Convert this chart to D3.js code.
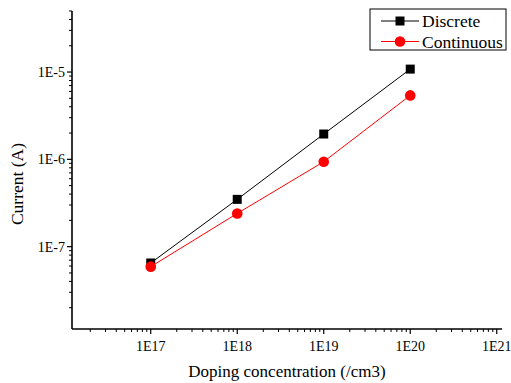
<!DOCTYPE html>
<html>
<head>
<meta charset="utf-8">
<script src="https://cdn.jsdelivr.net/npm/d3@7"></script>
<style>
  body { margin: 0; background: #fff; }
  text { font-family: "Liberation Serif", "Times New Roman", serif; }
</style>
</head>
<body>
<div id="chart"></div>
<script>
const width = 511;
const height = 383;
const margin = ({top: 11, right: 9, bottom: 54, left: 72});

// doping concentration (/cm3)
const doping = [1e17, 1e18, 1e19, 1e20];
const discrete = [6.5e-8, 3.48e-7, 1.95e-6, 1.08e-5];
const continuous = [5.9e-8, 2.4e-7, 9.4e-7, 5.4e-6];
const xTickLabels = ["1E17", "1E18", "1E19", "1E20", "1E21"];
const yTickLabels = ["1E-7", "1E-6", "1E-5"];

const series = [
    {name: "Discrete", values: discrete, color: "#000000", marker: "square"},
    {name: "Continuous", values: continuous, color: "#ff0000", marker: "circle"}
];

let svg = d3.select("#chart")
    .append("svg")
    .attr("width", width)
    .attr("height", height)
    .style("display", "block");

let xScale = d3.scaleLog()
    .domain([1.23e16, 1.15e21])
    .range([margin.left, width - margin.right]);

let yScale = d3.scaleLog()
    .domain([1.14e-8, 5e-5])
    .range([height - margin.bottom, margin.top]);

// minor ticks 2..9 in every decade that falls in the domain
const minorTicks = (scale) => {
    let [a, b] = scale.domain();
    let out = [];
    for (let e = Math.floor(Math.log10(a)); e <= Math.ceil(Math.log10(b)); e++) {
        for (let m = 2; m <= 9; m++) {
            let v = m * Math.pow(10, e);
            if (v >= a && v <= b) out.push(v);
        }
    }
    return out;
};

const xMajor = xTickLabels.map(t => +t.replace("E", "e"));
const yMajor = yTickLabels.map(t => +t.replace("E", "e"));

// x axis
let xAxis = svg.append("g")
    .attr("transform", "translate(0," + (height - margin.bottom) + ")");

xAxis.selectAll(".minor")
    .data(minorTicks(xScale))
    .enter().append("line")
    .attr("x1", d => xScale(d)).attr("x2", d => xScale(d))
    .attr("y1", 0).attr("y2", 3)
    .attr("stroke", "#000").attr("stroke-width", 1);

xAxis.selectAll(".major")
    .data(xMajor)
    .enter().append("line")
    .attr("x1", d => xScale(d)).attr("x2", d => xScale(d))
    .attr("y1", 0).attr("y2", 5)
    .attr("stroke", "#000").attr("stroke-width", 1.2);

xAxis.selectAll(".label")
    .data(xMajor)
    .enter().append("text")
    .attr("x", d => xScale(d))
    .attr("y", 22)
    .attr("text-anchor", "middle")
    .attr("font-size", 14)
    .text((d, i) => xTickLabels[i]);

xAxis.append("line")
    .attr("x1", margin.left).attr("x2", width - margin.right)
    .attr("y1", 0).attr("y2", 0)
    .attr("stroke", "#000").attr("stroke-width", 1.6);

// y axis
let yAxis = svg.append("g")
    .attr("transform", "translate(" + margin.left + ",0)");

yAxis.selectAll(".minor")
    .data(minorTicks(yScale))
    .enter().append("line")
    .attr("y1", d => yScale(d)).attr("y2", d => yScale(d))
    .attr("x1", 0).attr("x2", -3)
    .attr("stroke", "#000").attr("stroke-width", 1);

yAxis.selectAll(".major")
    .data(yMajor)
    .enter().append("line")
    .attr("y1", d => yScale(d)).attr("y2", d => yScale(d))
    .attr("x1", 0).attr("x2", -5)
    .attr("stroke", "#000").attr("stroke-width", 1.2);

yAxis.selectAll(".label")
    .data(yMajor)
    .enter().append("text")
    .attr("x", -7)
    .attr("y", d => yScale(d))
    .attr("dy", "0.35em")
    .attr("text-anchor", "end")
    .attr("font-size", 14)
    .text((d, i) => yTickLabels[i]);

yAxis.append("line")
    .attr("x1", 0).attr("x2", 0)
    .attr("y1", margin.top).attr("y2", height - margin.bottom)
    .attr("stroke", "#000").attr("stroke-width", 1.6);

// axis titles
svg.append("text")
    .attr("x", (margin.left + width - margin.right) / 2)
    .attr("y", 377)
    .attr("text-anchor", "middle")
    .attr("font-size", 17)
    .text("Doping concentration (/cm3)");

svg.append("text")
    .attr("transform", "translate(23,184) rotate(-90)")
    .attr("text-anchor", "middle")
    .attr("font-size", 17.5)
    .text("Current (A)");

// series
let line = d3.line()
    .x((d, i) => xScale(doping[i]))
    .y(d => yScale(d));

const drawMarker = (g, type, color, x, y) => {
    if (type === "square") {
        g.append("rect")
            .attr("x", x - 4.5).attr("y", y - 4.5)
            .attr("width", 9).attr("height", 9)
            .attr("fill", color);
    } else {
        g.append("circle")
            .attr("cx", x).attr("cy", y)
            .attr("r", 5.3)
            .attr("fill", color);
    }
};

series.forEach(s => {
    let g = svg.append("g");
    g.append("path")
        .datum(s.values)
        .attr("d", line)
        .attr("fill", "none")
        .attr("stroke", s.color)
        .attr("stroke-width", 1);
    s.values.forEach((v, i) => drawMarker(g, s.marker, s.color, xScale(doping[i]), yScale(v)));
});

// legend
let legend = svg.append("g");
legend.append("rect")
    .attr("x", 370).attr("y", 9)
    .attr("width", 136).attr("height", 41)
    .attr("fill", "#fff")
    .attr("stroke", "#000")
    .attr("stroke-width", 1);

series.forEach((s, i) => {
    let y = 21 + i * 20.5;
    legend.append("line")
        .attr("x1", 381).attr("x2", 419)
        .attr("y1", y).attr("y2", y)
        .attr("stroke", s.color).attr("stroke-width", 1);
    drawMarker(legend, s.marker, s.color, 400, y);
    legend.append("text")
        .attr("x", 422)
        .attr("y", y)
        .attr("dy", "0.35em")
        .attr("font-size", 17.5)
        .text(s.name);
});
</script>
</body>
</html>
